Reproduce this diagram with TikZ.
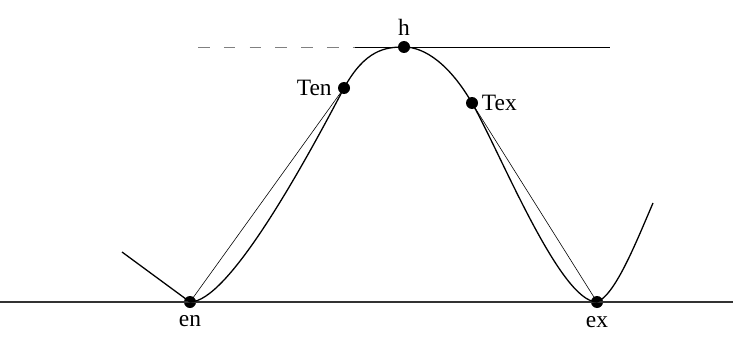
\documentclass[tikz,border=0pt]{standalone}
\usepackage{fontspec}
\setmainfont{Liberation Serif}
\usetikzlibrary{positioning}

\begin{document}
\begin{tikzpicture}[x=0.03cm,y=-0.03cm,
  pt/.style={circle,fill=black,inner sep=0pt,minimum size=0.36cm},
  lbl/.style={font=\fontsize{20}{24}\selectfont,inner sep=1pt},
  thick curve/.style={line width=1.1pt},
  chord/.style={line width=0.5pt}]
\useasboundingbox (0,0) rectangle (733,339);
% points on the curve
\node[pt] (en) at (190,302) {};
\node[pt] (ex) at (597,302) {};
\node[pt] (h) at (404,47) {};
\node[pt] (Ten) at (344,88) {};
\node[pt] (Tex) at (472,103) {};
\coordinate (bl) at (0,302);
\coordinate (br) at (733,302);
\coordinate (hl) at (198,47);
\coordinate (hm) at (355,47);
\coordinate (hr) at (610,47);
\coordinate (wl) at (122,252);
\coordinate (wr) at (653,203);
% labels
\node[lbl,above=3pt of h] {h};
\node[lbl,left=4pt of Ten] {Ten};
\node[lbl,right=2pt of Tex] {Tex};
\node[lbl,below=5pt of en] {en};
\node[lbl,below=6pt of ex] {ex};
% lines
\draw[line width=0.9pt,black!80] (bl) -- (br);
\draw[line width=0.6pt,dashed,dash pattern=on 10pt off 12pt,black!50] (hl) -- (hm);
\draw[line width=0.8pt] (hm) -- (hr);
\draw[thick curve] (wl) -- (en.center);
\draw[thick curve] (en.center) .. controls (228,302) and (302,168) .. (Ten.center)
  .. controls (365,50) and (385,47) .. (h.center)
  .. controls (425,47) and (450,65) .. (Tex.center)
  .. controls (500,152) and (560,302) .. (ex.center);
\draw[thick curve] (ex.center) .. controls (615,295) and (635,245) .. (wr);
\draw[chord] (en.center) -- (Ten.center);
\draw[chord] (Tex.center) -- (ex.center);
\end{tikzpicture}
\end{document}
